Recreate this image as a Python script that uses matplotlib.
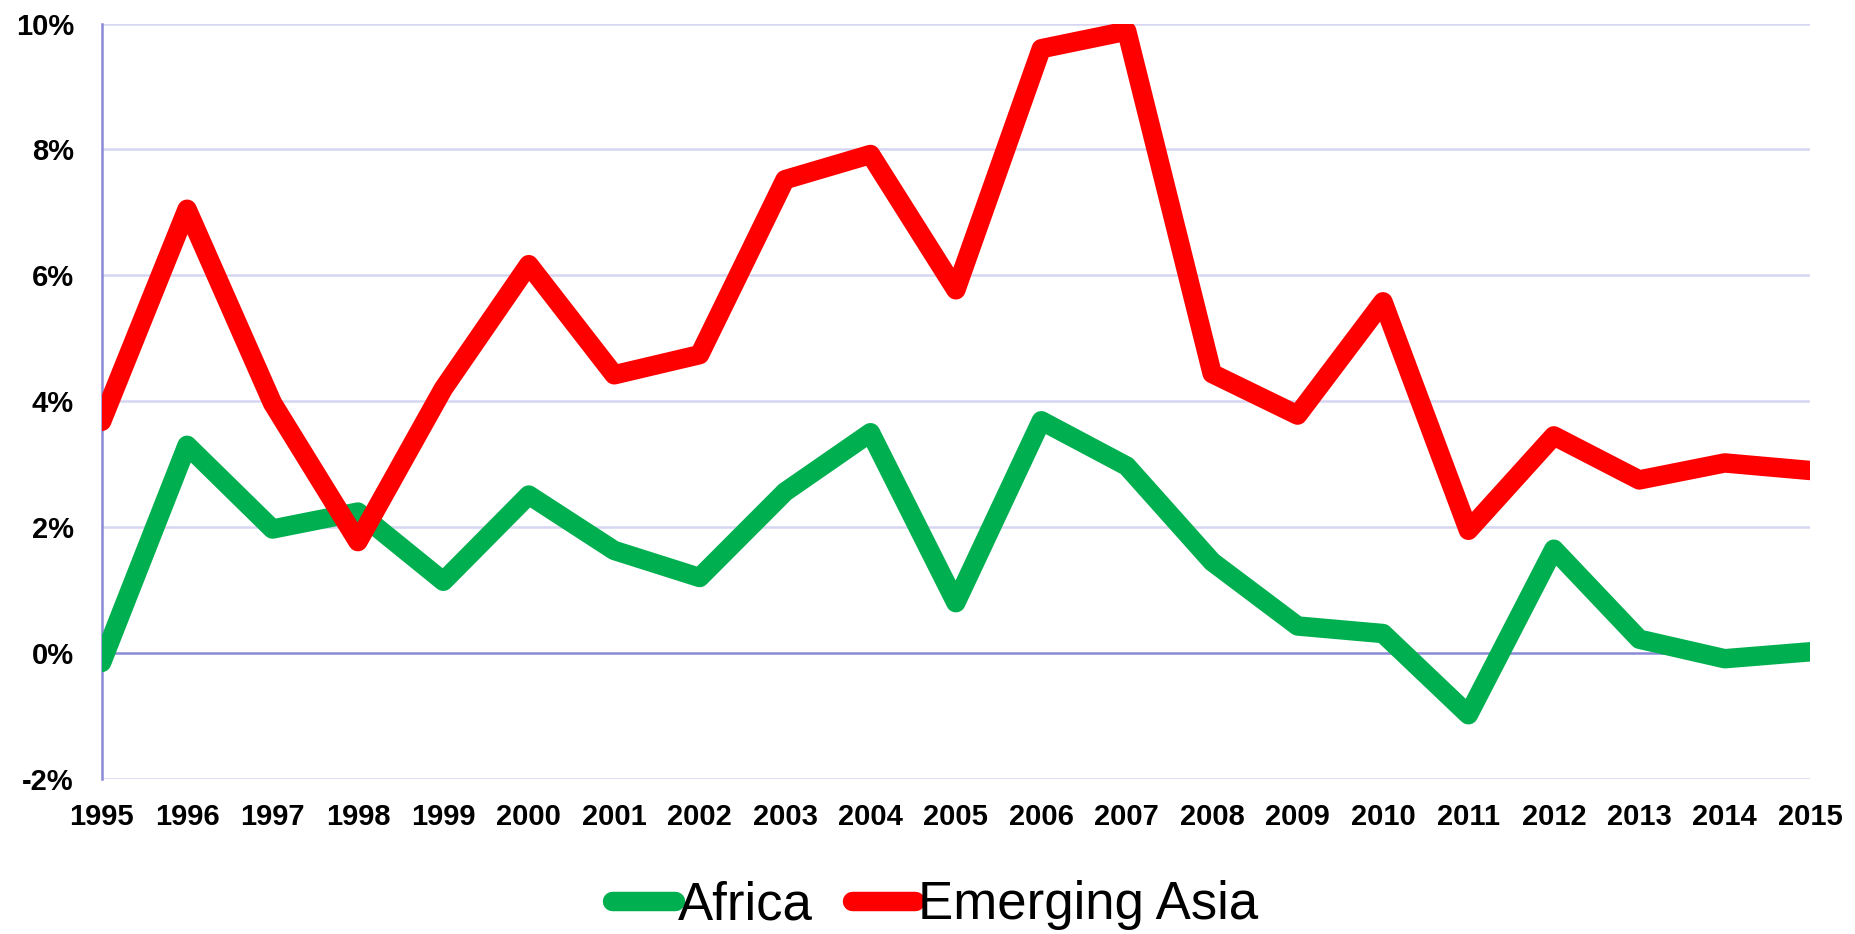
import matplotlib
matplotlib.use("Agg")
import matplotlib.pyplot as plt

# Data (annual %, 1995-2015)
years = list(range(1995, 2016))
africa = [-0.15, 3.3, 1.97, 2.24, 1.14, 2.51, 1.63, 1.2, 2.56, 3.5, 0.8,
          3.69, 2.97, 1.45, 0.43, 0.31, -0.98, 1.65, 0.22, -0.09, 0.02]
emerging_asia = [3.68, 7.05, 3.97, 1.77, 4.2, 6.17, 4.42, 4.74, 7.52, 7.92, 5.77,
                 9.6, 9.88, 4.44, 3.78, 5.58, 1.95, 3.45, 2.75, 3.02, 2.9]
y_ticks = [-2, 0, 2, 4, 6, 8, 10]

GREEN = "#00B050"
RED = "#FF0000"
GRID = "#D6D6F2"
AXIS = "#8A8AD6"

plt.rcParams["font.family"] = ["Liberation Sans", "DejaVu Sans"]

fig = plt.figure(figsize=(18.55, 9.34), dpi=100)
ax = fig.add_axes([0.0548, 0.166, 0.921, 0.8088])

# grid lines first, zero line darker
for v in y_ticks:
    if v == 0:
        continue
    ax.axhline(v, color=GRID, lw=1.8, zorder=1)
ax.axhline(0, color=AXIS, lw=1.8, zorder=1)

ax.plot(years, africa, color=GREEN, lw=14, solid_joinstyle="round",
        solid_capstyle="round", label="Africa", zorder=3)
ax.plot(years, emerging_asia, color=RED, lw=14, solid_joinstyle="round",
        solid_capstyle="round", label="Emerging Asia", zorder=3)

ax.set_xlim(1995, 2015)
ax.set_ylim(-2, 10)

ax.set_xticks(years)
ax.set_xticklabels([str(y) for y in years], fontsize=21, fontweight="bold")
ax.set_yticks(y_ticks)
ax.set_yticklabels([f"{v}%" for v in y_ticks], fontsize=21, fontweight="bold")
ax.tick_params(axis="both", length=0)
ax.tick_params(axis="x", pad=17)
ax.tick_params(axis="y", pad=20)

for side in ["top", "right", "bottom"]:
    ax.spines[side].set_visible(False)
ax.spines["left"].set_color(AXIS)
ax.spines["left"].set_linewidth(1.8)

leg = ax.legend(loc="center", bbox_to_anchor=(0.504, 0.031),
                bbox_transform=fig.transFigure, ncol=2, frameon=False,
                fontsize=38, handlelength=1.2, handletextpad=0.05,
                columnspacing=0.75)

fig.savefig("out.png", dpi=100)
